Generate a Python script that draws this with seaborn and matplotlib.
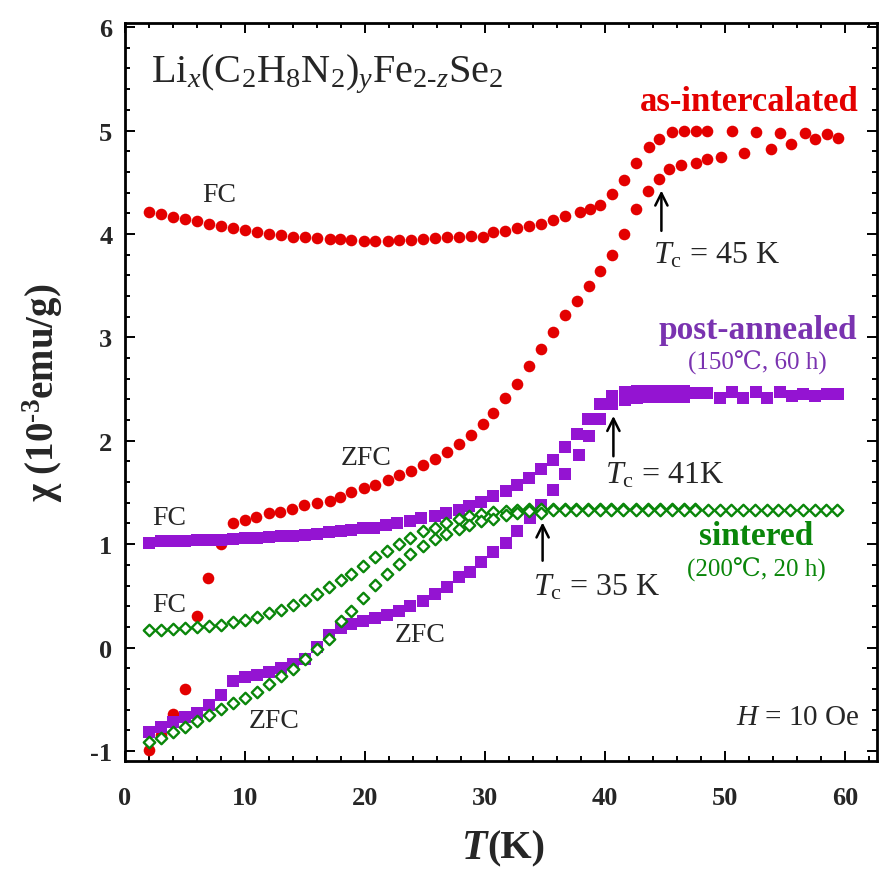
import numpy as np
import pandas as pd
import matplotlib
matplotlib.use("Agg")
import matplotlib.pyplot as plt
import seaborn as sns
from matplotlib.ticker import MultipleLocator

# ---------------- data ----------------
red_fc_T = [2, 3, 4, 5, 6, 7, 8, 9, 10, 11, 12, 13, 14, 15, 16,
            17.1, 17.9, 18.8, 19.9, 20.8, 21.9, 22.8, 23.8, 24.8, 25.8, 26.8, 27.8, 28.8, 29.8,
            30.7, 31.7, 32.7, 33.7, 34.7, 35.7, 36.7,
            37.9, 38.75, 39.6, 40.6, 41.6, 42.6, 43.7,
            44.5, 45.6, 46.6, 47.6, 48.5,
            50.6, 52.6, 54.6, 56.7, 58.5]
red_fc_chi = [4.21, 4.19, 4.165, 4.14, 4.125, 4.095, 4.08, 4.056, 4.037, 4.02, 3.998, 3.988, 3.966, 3.966, 3.956,
              3.95, 3.95, 3.94, 3.934, 3.934, 3.934, 3.94, 3.94, 3.95, 3.956, 3.966, 3.972, 3.98, 3.966,
              4.014, 4.03, 4.053, 4.08, 4.10, 4.133, 4.17,
              4.21, 4.24, 4.28, 4.39, 4.52, 4.69, 4.84,
              4.92, 4.99, 5.0, 5.0, 5.0,
              5.0, 4.99, 4.98, 4.98, 4.965]

red_zfc_T = [2.0, 3.0, 4.0, 5.0, 6.0, 6.9, 8.0, 9.0, 10.0, 10.9, 12.0, 12.9, 13.9, 14.9, 16.0,
             17.1, 17.9, 18.8, 19.9, 20.8, 21.9, 22.8, 23.8, 24.8, 25.8, 26.8, 27.8, 28.8, 29.8,
             30.7, 31.7, 32.7, 33.7, 34.7, 35.7,
             36.7, 37.7, 38.7, 39.6, 40.6, 41.6, 42.6, 43.6, 44.5,
             45.3, 46.3, 47.6, 48.5, 49.7, 51.6, 53.8, 55.5, 57.5, 59.4]
red_zfc_chi = [-0.99, -0.85, -0.64, -0.40, 0.31, 0.67, 1.00, 1.20, 1.235, 1.26, 1.30, 1.31, 1.34, 1.38, 1.40,
               1.42, 1.46, 1.50, 1.54, 1.57, 1.62, 1.67, 1.71, 1.77, 1.82, 1.89, 1.97, 2.06, 2.16,
               2.27, 2.41, 2.55, 2.72, 2.89, 3.05,
               3.22, 3.35, 3.50, 3.64, 3.80, 4.00, 4.24, 4.42, 4.53,
               4.63, 4.67, 4.69, 4.72, 4.745, 4.78, 4.825, 4.87, 4.92, 4.93]

pa_fc_T = [2, 3, 4, 5, 6, 7, 8, 9, 10, 11, 12, 13, 14, 15, 16, 17, 18,
           18.8, 19.8, 20.75, 21.75, 22.7, 23.75, 24.7, 25.8, 26.75, 27.8, 28.7, 29.7, 30.7, 31.75,
           32.7, 33.7, 34.7, 35.7, 36.7, 37.7, 38.6, 39.6, 40.6, 41.7, 42.7, 43.7, 44.6, 45.6, 46.6,
           47.5, 48.5, 50.6, 52.6, 54.6, 56.5, 58.5]
pa_fc_chi = [1.007, 1.026, 1.026, 1.032, 1.039, 1.039, 1.042, 1.048, 1.058, 1.058, 1.071, 1.08, 1.08, 1.087,
             1.097, 1.113, 1.129,
             1.139, 1.152, 1.161, 1.184, 1.20, 1.226, 1.249, 1.268, 1.30, 1.329, 1.371, 1.41, 1.461, 1.51,
             1.571, 1.635, 1.725, 1.81, 1.935, 2.064, 2.215, 2.36, 2.434, 2.473, 2.483, 2.483, 2.483, 2.483, 2.483,
             2.46, 2.46, 2.467, 2.467, 2.467, 2.45, 2.45]

pa_zfc_T = [2, 3, 4, 5, 6, 7, 8, 9, 10, 11, 12, 13, 14, 15, 16, 17, 18,
            18.8, 19.8, 20.8, 21.8, 22.8, 23.75, 24.8, 25.8, 26.8, 27.8, 28.75, 29.7, 30.7, 31.75,
            32.7, 33.75, 34.7, 35.7, 36.7, 37.8, 38.7, 39.6, 40.6, 41.7, 42.7, 43.7, 44.6, 45.6, 46.6,
            49.6, 51.5, 53.5, 55.6, 57.5, 59.4]
pa_zfc_chi = [-0.812, -0.767, -0.718, -0.676, -0.628, -0.557, -0.457, -0.322, -0.289, -0.264, -0.235,
              -0.202, -0.161, -0.106, 0.007, 0.12, 0.194,
              0.226, 0.258, 0.284, 0.313, 0.355, 0.403, 0.452, 0.516, 0.59, 0.678, 0.732, 0.823, 0.926, 1.016,
              1.129, 1.249, 1.377, 1.525, 1.677, 1.861, 2.042, 2.209, 2.354, 2.39, 2.41, 2.42, 2.42, 2.42, 2.42,
              2.418, 2.418, 2.418, 2.434, 2.434, 2.45]

si_fc_T = [2, 3, 4, 5, 6, 7, 8, 9, 10, 11, 12, 13, 14, 15, 16, 17, 18,
           18.8, 19.8, 20.8, 21.8, 22.8, 23.75, 24.8, 25.8, 26.75, 27.8, 28.7, 29.7, 30.7, 31.75,
           32.7, 33.7, 34.7,
           35.7, 36.7, 37.6, 38.6, 39.6, 40.5, 41.5, 42.6, 43.6, 44.6, 45.6, 46.6, 47.5,
           48.6, 50.5, 52.5, 54.4, 56.5, 58.4]
si_fc_chi = [0.171, 0.171, 0.178, 0.194, 0.20, 0.21, 0.22, 0.243, 0.268, 0.291, 0.333, 0.365, 0.41, 0.462,
             0.516, 0.581, 0.655,
             0.716, 0.79, 0.871, 0.935, 1.0, 1.064, 1.129, 1.161, 1.20, 1.24, 1.27, 1.29, 1.31, 1.325,
             1.335, 1.34, 1.34,
             1.34, 1.34, 1.34, 1.34, 1.34, 1.34, 1.34, 1.34, 1.34, 1.34, 1.34, 1.34, 1.34,
             1.335, 1.335, 1.335, 1.335, 1.335, 1.335]

si_zfc_T = [2, 3, 4, 5, 6, 7, 8, 9, 10, 11, 12, 13, 14, 15, 16, 17, 18,
            18.8, 19.8, 20.8, 21.8, 22.8, 23.75, 24.8, 25.8, 26.75, 27.8, 28.7, 29.7, 30.7, 31.75,
            32.7, 33.7, 34.7,
            35.7, 36.7, 37.6, 38.6, 39.6, 40.5, 41.5, 42.6, 43.6, 44.6, 45.6, 46.6, 47.5,
            49.6, 51.5, 53.5, 55.4, 57.5, 59.3]
si_zfc_chi = [-0.918, -0.87, -0.821, -0.767, -0.715, -0.654, -0.596, -0.538, -0.483, -0.425, -0.348,
              -0.274, -0.209, -0.106, -0.016, 0.081, 0.258,
              0.355, 0.484, 0.603, 0.71, 0.807, 0.903, 0.984, 1.048, 1.10, 1.15, 1.19, 1.22, 1.245, 1.28,
              1.30, 1.32, 1.305,
              1.33, 1.33, 1.33, 1.33, 1.33, 1.33, 1.33, 1.33, 1.33, 1.33, 1.33, 1.33, 1.33,
              1.335, 1.335, 1.335, 1.335, 1.335, 1.335]

# ---------------- style ----------------
sns.set_theme(style="ticks")
SERIF = "Liberation Serif"
plt.rcParams.update({
    "font.family": [SERIF, "DejaVu Serif"],
    "mathtext.fontset": "custom",
    "mathtext.rm": SERIF,
    "mathtext.it": SERIF + ":italic",
    "mathtext.bf": SERIF + ":bold",
    "axes.unicode_minus": False,
})

RED = "#E30000"
PURPLE = "#9414D2"
PURPLE_TXT = "#7A33B0"
GREEN = "#0A860A"

fig = plt.figure(figsize=(8.87, 8.79), dpi=100)
ax = fig.add_axes([125 / 887, 1 - 762 / 879, (877 - 125) / 887, (762 - 24) / 879])

def df(T, c):
    return pd.DataFrame({"T": T, "chi": c})

sns.scatterplot(data=df(red_fc_T, red_fc_chi), x="T", y="chi", ax=ax, marker="o", s=70,
                color=RED, edgecolor=RED, linewidth=0, zorder=3)
sns.scatterplot(data=df(red_zfc_T, red_zfc_chi), x="T", y="chi", ax=ax, marker="o", s=70,
                color=RED, edgecolor=RED, linewidth=0, zorder=3)
sns.scatterplot(data=df(pa_fc_T, pa_fc_chi), x="T", y="chi", ax=ax, marker="s", s=80,
                color=PURPLE, edgecolor=PURPLE, linewidth=0, zorder=4)
sns.scatterplot(data=df(pa_zfc_T, pa_zfc_chi), x="T", y="chi", ax=ax, marker="s", s=80,
                color=PURPLE, edgecolor=PURPLE, linewidth=0, zorder=4)
sns.scatterplot(data=df(si_fc_T, si_fc_chi), x="T", y="chi", ax=ax, marker="D", s=34,
                facecolor="white", edgecolor=GREEN, linewidth=1.7, zorder=5)
sns.scatterplot(data=df(si_zfc_T, si_zfc_chi), x="T", y="chi", ax=ax, marker="D", s=34,
                facecolor="white", edgecolor=GREEN, linewidth=1.7, zorder=5)

ax.set_xlim(0, (877 - 125) / 12)
ax.set_ylim(-1.097, 6.04)
ax.xaxis.set_major_locator(MultipleLocator(10))
ax.xaxis.set_minor_locator(MultipleLocator(2))
ax.yaxis.set_major_locator(MultipleLocator(1))
ax.yaxis.set_minor_locator(MultipleLocator(0.2))
ax.tick_params(which="both", direction="in", top=True, right=True, width=1.4, color="black")
ax.tick_params(which="major", length=7)
ax.tick_params(which="minor", length=3.5)
ax.tick_params(axis="x", which="major", pad=18, labelsize=19)
ax.tick_params(axis="y", which="major", pad=9, labelsize=19)
for lab in ax.get_xticklabels() + ax.get_yticklabels():
    lab.set_fontweight("bold")
for sp in ax.spines.values():
    sp.set_linewidth(2.0)
    sp.set_color("black")
    sp.set_visible(True)

ax.set_xlabel("")
ax.set_ylabel("χ (10$^{\\mathbf{\u20103}}$emu/g)", fontsize=28, fontweight="bold", labelpad=18)
ax.text(0.482, -0.118, "T", transform=ax.transAxes, ha="right", va="center",
        fontsize=30, fontweight="bold", fontstyle="italic")
ax.text(0.482, -0.118, "(K)", transform=ax.transAxes, ha="left", va="center",
        fontsize=29, fontweight="bold")

# ---------------- annotations ----------------
ARW = dict(arrowstyle="->", lw=1.8, color="black", mutation_scale=22, shrinkA=0, shrinkB=0)
ax.text(2.2, 5.55, "Li$_{x}$(C$_2$H$_8$N$_2$)$_{y}$Fe$_{2\u2010z}$Se$_2$", fontsize=29,
        ha="left", va="center")
ax.text(61.1, 5.28, "as-intercalated", color=RED, fontsize=25, fontweight="bold",
        ha="right", va="center")
ax.text(7.85, 4.385, "FC", fontsize=20, ha="center", va="center")
ax.text(49.3, 3.80, r"$T_\mathrm{c}$ = 45 K", fontsize=23, ha="center", va="center")
ax.annotate("", xy=(44.7, 4.42), xytext=(44.7, 4.03), arrowprops=ARW)
ax.text(52.7, 3.08, "post-annealed", color=PURPLE_TXT, fontsize=24, fontweight="bold",
        ha="center", va="center")
ax.text(52.7, 2.76, "(150℃, 60 h)", color=PURPLE_TXT, fontsize=18, ha="center", va="center")
ax.text(45.0, 1.67, r"$T_\mathrm{c}$ = 41K", fontsize=23, ha="center", va="center")
ax.annotate("", xy=(40.7, 2.24), xytext=(40.7, 1.85), arrowprops=ARW)
ax.text(20.1, 1.84, "ZFC", fontsize=20, ha="center", va="center")
ax.text(3.7, 1.26, "FC", fontsize=20, ha="center", va="center")
ax.text(52.6, 1.08, "sintered", color=GREEN, fontsize=24, fontweight="bold",
        ha="center", va="center")
ax.text(52.6, 0.76, "(200℃, 20 h)", color=GREEN, fontsize=18, ha="center", va="center")
ax.text(3.7, 0.42, "FC", fontsize=20, ha="center", va="center")
ax.text(39.3, 0.59, r"$T_\mathrm{c}$ = 35 K", fontsize=23, ha="center", va="center")
ax.annotate("", xy=(34.8, 1.21), xytext=(34.8, 0.84), arrowprops=ARW)
ax.text(24.6, 0.13, "ZFC", fontsize=20, ha="center", va="center")
ax.text(12.4, -0.71, "ZFC", fontsize=20, ha="center", va="center")
ax.text(61.2, -0.67, r"$H$ = 10 Oe", fontsize=21, ha="right", va="center")

fig.savefig("out.png", dpi=100)
